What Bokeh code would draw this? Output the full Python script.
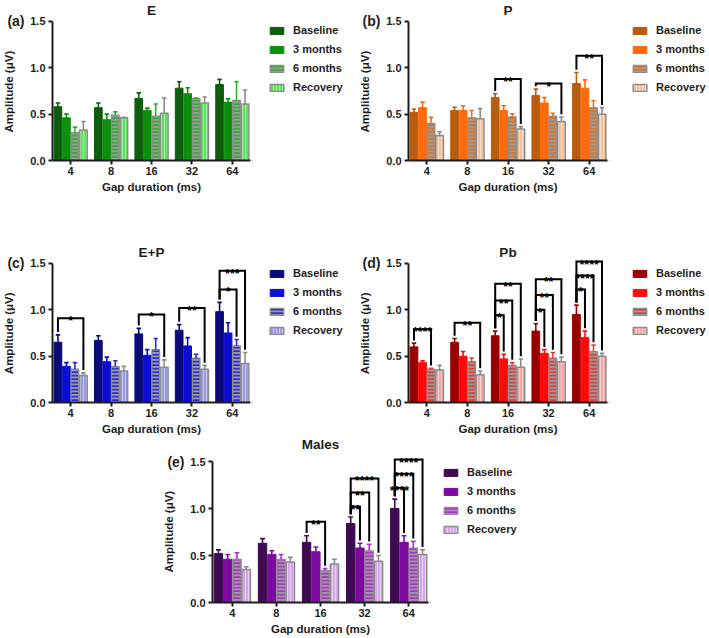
from bokeh.plotting import figure
from bokeh.models import (Range1d, FixedTicker, Label, Legend, LegendItem,
                          ColumnDataSource, NumeralTickFormatter, LinearAxis)
from bokeh.layouts import column, row
from bokeh.embed import file_html
from bokeh.resources import INLINE
from bokeh.core.properties import value

FONT = "Liberation Sans"
GAPS = ["4", "8", "16", "32", "64"]
SERIES = ["Baseline", "3 months", "6 months", "Recovery"]

# ---------------- (a) E ----------------
E_MEAN = [[0.58, 0.57, 0.67, 0.78, 0.82],
          [0.46, 0.44, 0.54, 0.72, 0.63],
          [0.30, 0.49, 0.48, 0.67, 0.65],
          [0.33, 0.46, 0.51, 0.62, 0.61]]
E_ERR = [[0.04, 0.05, 0.06, 0.07, 0.055],
         [0.04, 0.06, 0.025, 0.065, 0.035],
         [0.06, 0.035, 0.13, 0.005, 0.20],
         [0.09, 0.005, 0.165, 0.065, 0.15]]
E_SIG = []

# ---------------- (b) P ----------------
P_MEAN = [[0.52, 0.54, 0.68, 0.70, 0.83],
          [0.57, 0.54, 0.54, 0.62, 0.78],
          [0.40, 0.46, 0.47, 0.48, 0.57],
          [0.27, 0.45, 0.34, 0.42, 0.50]]
P_ERR = [[0.035, 0.035, 0.04, 0.07, 0.12],
         [0.06, 0.05, 0.05, 0.06, 0.09],
         [0.065, 0.08, 0.035, 0.03, 0.075],
         [0.04, 0.11, 0.025, 0.05, 0.07]]
P_SIG = [(2, 3, 0.88, "**"), (3, 3, 0.83, "*"), (4, 3, 1.13, "**")]

# ---------------- (c) E+P ----------------
EP_MEAN = [[0.65, 0.67, 0.74, 0.78, 0.98],
           [0.39, 0.44, 0.51, 0.61, 0.75],
           [0.36, 0.39, 0.57, 0.48, 0.61],
           [0.29, 0.34, 0.38, 0.36, 0.42]]
EP_ERR = [[0.08, 0.05, 0.06, 0.06, 0.10],
          [0.04, 0.05, 0.06, 0.09, 0.11],
          [0.07, 0.06, 0.12, 0.04, 0.07],
          [0.03, 0.05, 0.08, 0.04, 0.12]]
EP_SIG = [(0, 3, 0.91, "*"), (2, 3, 0.95, "*"), (3, 3, 1.02, "**"),
          (4, 2, 1.22, "*"), (4, 3, 1.42, "***")]

# ---------------- (d) Pb ----------------
PB_MEAN = [[0.60, 0.65, 0.72, 0.77, 0.95],
           [0.43, 0.50, 0.47, 0.53, 0.70],
           [0.36, 0.44, 0.40, 0.48, 0.55],
           [0.35, 0.30, 0.38, 0.44, 0.50]]
PB_ERR = [[0.04, 0.04, 0.05, 0.08, 0.10],
          [0.02, 0.05, 0.05, 0.04, 0.07],
          [0.01, 0.04, 0.03, 0.06, 0.07],
          [0.05, 0.04, 0.09, 0.05, 0.03]]
PB_SIG = [(0, 2, 0.79, "****"), (1, 3, 0.86, "**"),
          (2, 1, 0.94, "*"), (2, 2, 1.10, "**"), (2, 3, 1.28, "**"),
          (3, 1, 1.00, "*"), (3, 2, 1.16, "**"), (3, 3, 1.33, "**"),
          (4, 1, 1.22, "*"), (4, 2, 1.37, "****"), (4, 3, 1.52, "****")]

# ---------------- (e) Males ----------------
M_MEAN = [[0.52, 0.63, 0.64, 0.84, 1.00],
          [0.46, 0.51, 0.54, 0.58, 0.64],
          [0.46, 0.46, 0.34, 0.55, 0.58],
          [0.35, 0.43, 0.41, 0.44, 0.51]]
M_ERR = [[0.04, 0.05, 0.07, 0.07, 0.10],
         [0.05, 0.04, 0.05, 0.05, 0.07],
         [0.07, 0.05, 0.02, 0.07, 0.07],
         [0.03, 0.05, 0.05, 0.06, 0.05]]
M_SIG = [(2, 2, 0.86, "**"), (3, 1, 1.02, "**"), (3, 2, 1.17, "**"),
         (3, 3, 1.32, "****"), (4, 1, 1.22, "****"), (4, 2, 1.37, "****"),
         (4, 3, 1.52, "****")]

# colours: baseline, 3 months, 6 months stripes, recovery fill
E_COL = ["#0e5c0e", "#0c900c", "#2fb02f", "#5fe35f"]
P_COL = ["#b85c0e", "#ff6a0c", "#e2731f", "#f2c39a"]
EP_COL = ["#0a0a78", "#0c0cd2", "#2a2ae0", "#9b9be8"]
PB_COL = ["#990000", "#ff0a0a", "#e23a3a", "#f0a8a8"]
M_COL = ["#3e0a52", "#7c0aa0", "#b030d0", "#d4a8e6"]

GRAY = "#8c8c8c"
INK = "#1e1e1e"
OFF = [-0.315, -0.105, 0.105, 0.315]
BW = 0.19
YLAB = "Amplitude (\u03bcV)"
YLAB_PX = 11.5


def bar_style(s, cols):
    if s < 2:
        return dict(fill_color=cols[s], line_color=cols[s], line_width=1)
    if s == 2:
        return dict(fill_color="#9a9a9a", line_color=GRAY, line_width=1.2,
                    hatch_pattern="horizontal_line", hatch_color=cols[2],
                    hatch_scale=3.5, hatch_weight=1.8)
    return dict(fill_color=cols[3], line_color=GRAY, line_width=1.5,
                hatch_pattern="vertical_line", hatch_color="white",
                hatch_alpha=0.45, hatch_scale=3, hatch_weight=1)


def make_panel(title, tag, means, errs, sigs, cols, height,
               bl, bt, bb, data_w, ppu, title_y):
    br = 2
    width = bl + data_w + br
    frame_h = height - bt - bb
    y_end = frame_h / ppu
    p = figure(width=width, height=height, x_range=Range1d(-0.45, 4.45),
               y_range=Range1d(0, y_end), output_backend="svg",
               toolbar_location=None, min_border_left=bl, min_border_right=br,
               min_border_top=bt, min_border_bottom=bb)
    p.outline_line_color = None
    p.grid.visible = False
    p.background_fill_color = "white"
    p.border_fill_color = "white"

    for s in range(4):
        xs = [g + OFF[s] for g in range(5)]
        src = ColumnDataSource(dict(x=xs, top=means[s]))
        p.vbar(x="x", top="top", width=BW, source=src, **bar_style(s, cols))
        ecol = [cols[0], cols[1], cols[2], GRAY][s]
        tops = means[s]
        ends = [t + e for t, e in zip(tops, errs[s])]
        p.segment(x0=xs, y0=tops, x1=xs, y1=ends, line_color=ecol, line_width=1.6)
        p.segment(x0=[x - 0.055 for x in xs], y0=ends, x1=[x + 0.055 for x in xs],
                  y1=ends, line_color=ecol, line_width=1.6)

    if sigs:
        bxs, bys, tx, ty, tt = [], [], [], [], []
        for (g, t, h, lab) in sigs:
            x0 = g + OFF[0]
            x1 = g + OFF[t]
            yl = means[0][g] + errs[0][g] + 0.03
            yr = means[t][g] + errs[t][g] + 0.03
            bxs.append([x0, x0, x1, x1])
            bys.append([yl, h, h, yr])
            tx.append((x0 + x1) / 2)
            ty.append(h)
            tt.append(lab)
        p.multi_line(bxs, bys, line_color="black", line_width=2, line_join="miter")
        p.text(x=tx, y=ty, text=tt, text_font=value(FONT), text_font_style="bold",
               text_font_size="12.5px", text_align="center",
               text_baseline="alphabetic", y_offset=3, text_color="black")

    # axes
    p.xaxis.ticker = FixedTicker(ticks=[0, 1, 2, 3, 4])
    p.xaxis.major_label_overrides = {i: g for i, g in enumerate(GAPS)}
    p.yaxis.ticker = FixedTicker(ticks=[0, 0.5, 1.0, 1.5])
    p.yaxis.formatter = NumeralTickFormatter(format="0.0")
    p.yaxis.bounds = (0, 1.5)
    p.xaxis.axis_label = "Gap duration (ms)"

    # outer left axis: carries the panel tag and the y-axis title
    tag_axis = LinearAxis(ticker=FixedTicker(ticks=[1.5]),
                          major_label_overrides={1.5: tag}, bounds=(0, 1.5))
    p.add_layout(tag_axis, "left")

    for ax in p.axis:
        ax.axis_line_width = 2
        ax.axis_line_color = INK
        ax.major_tick_line_width = 2
        ax.major_tick_line_color = INK
        ax.major_tick_out = 4
        ax.major_tick_in = 0
        ax.minor_tick_out = 0
        ax.minor_tick_in = 0
        ax.major_label_text_font = FONT
        ax.major_label_text_font_style = "bold"
        ax.major_label_text_font_size = "11px"
        ax.major_label_text_color = INK
        ax.axis_label_text_font = FONT
        ax.axis_label_text_font_style = "bold"
        ax.axis_label_text_font_size = "%.1fpx" % YLAB_PX
        ax.axis_label_text_color = INK
    p.xaxis.major_label_standoff = 2
    p.xaxis.axis_label_standoff = 3
    p.yaxis[0].major_label_standoff = 3

    # the axis title is centred on the frame; pad it so it centres on 0..1.5
    shift = (frame_h / 2.0) - (0.75 * ppu)
    n_pad = max(0, int(round(2 * shift / (0.278 * YLAB_PX))))
    tag_axis.axis_line_color = None
    tag_axis.major_tick_line_color = None
    tag_axis.major_tick_out = 0
    tag_axis.major_label_standoff = 3
    tag_axis.major_label_text_font_size = "14px"
    tag_axis.axis_label = YLAB + "\u00a0" * n_pad
    tag_axis.axis_label_standoff = -11

    p.add_layout(Label(x=2.0, y=title_y, text=title, text_align="center",
                       text_baseline="middle", text_font=FONT,
                       text_font_style="bold", text_font_size="13.5px",
                       text_color=INK))
    return p


def make_legend(cols, width, height, legend_xy):
    q = figure(width=width, height=height, x_range=Range1d(0, 1),
               y_range=Range1d(0, 1), output_backend="svg",
               toolbar_location=None, x_axis_location=None,
               y_axis_location=None, min_border_left=0, min_border_right=0,
               min_border_top=0, min_border_bottom=0)
    q.outline_line_color = None
    q.grid.visible = False
    q.background_fill_color = "white"
    q.border_fill_color = "white"
    rs = []
    for s in range(4):
        # swatch-only renderers: their single bar lies outside the visible range
        src = ColumnDataSource(dict(x=[-5.0], top=[0.0]))
        rs.append(q.vbar(x="x", top="top", width=0.1, source=src,
                         **bar_style(s, cols)))
    legend = Legend(items=[LegendItem(label=SERIES[i], renderers=[rs[i]])
                           for i in range(4)],
                    location=legend_xy, orientation="vertical",
                    label_text_font=FONT, label_text_font_style="bold",
                    label_text_font_size="11px", label_text_color=INK,
                    glyph_width=17, glyph_height=9, label_height=14,
                    label_standoff=8, spacing=5, padding=0, margin=0,
                    border_line_color=None, background_fill_alpha=0)
    q.add_layout(legend)
    return q


pa = make_panel("E", "(a)", E_MEAN, E_ERR, E_SIG, E_COL, 205,
                49, 0, 45, 201, 92.7, 1.618)
la = make_legend(E_COL, 355 - pa.width, 205, (16, 66))
pb = make_panel("P", "(b)", P_MEAN, P_ERR, P_SIG, P_COL, 205,
                51, 0, 45, 201, 92.7, 1.618)
lb = make_legend(P_COL, 354 - pb.width, 205, (22, 66))

pc = make_panel("E+P", "(c)", EP_MEAN, EP_ERR, EP_SIG, EP_COL, 233,
                49, 33, 36, 201, 92.7, 1.618)
lc = make_legend(EP_COL, 355 - pc.width, 233, (16, 65))
pd = make_panel("Pb", "(d)", PB_MEAN, PB_ERR, PB_SIG, PB_COL, 233,
                51, 33, 36, 201, 92.7, 1.618)
ld = make_legend(PB_COL, 354 - pd.width, 233, (22, 65))

pe = make_panel("Males", "(e)", M_MEAN, M_ERR, M_SIG, M_COL, 200,
                212, 0, 36, 216, 94.0, 1.68)
le = make_legend(M_COL, 709 - pe.width, 200, (12, 66))

layout = column(row(pa, la, pb, lb), row(pc, lc, pd, ld), row(pe, le))

with open("out.html", "w") as f:
    f.write(file_html(layout, INLINE))
